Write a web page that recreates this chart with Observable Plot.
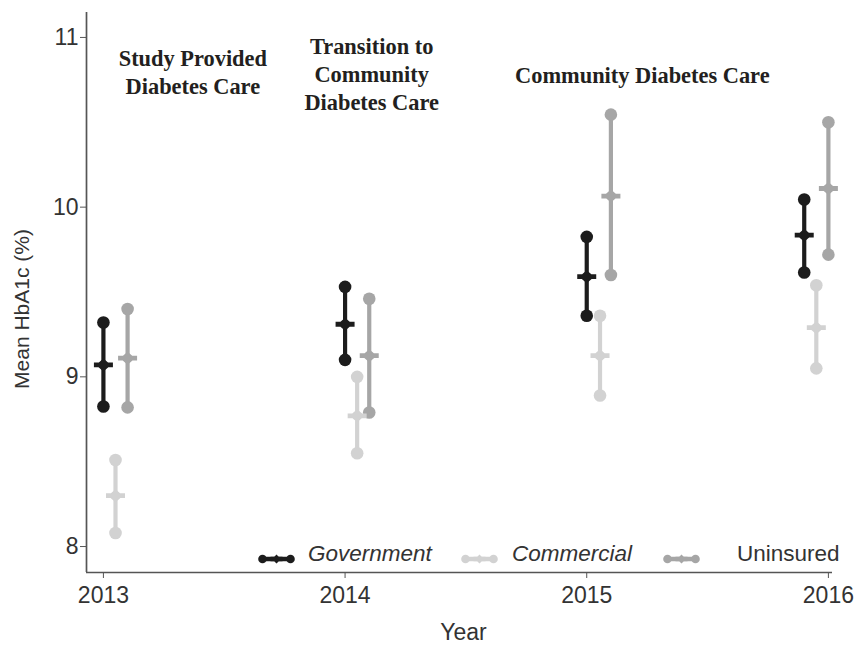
<!DOCTYPE html>
<html>
<head>
<meta charset="utf-8">
<script src="https://cdn.jsdelivr.net/npm/d3@7"></script>
<script src="https://cdn.jsdelivr.net/npm/@observablehq/plot@0.6"></script>
<style>
  html, body { margin: 0; padding: 0; background: #fff; }
  #chart { position: relative; width: 854px; height: 647px; }
  #legend { position: absolute; left: 0; top: 0; width: 854px; height: 647px; pointer-events: none;
            font-family: "Liberation Sans", Arial, sans-serif; font-size: 22.5px; color: #333; }
  .item { position: absolute; top: 540px; height: 28px; line-height: 28px; white-space: nowrap; }
  .sw { position: absolute; top: 547px; }
  #ylab { position: absolute; left: 22px; top: 309px; transform: translate(-50%, -50%) rotate(-90deg);
          font-family: "Liberation Sans", Arial, sans-serif; font-size: 21px; color: #333; white-space: nowrap; }
</style>
</head>
<body>
<div id="chart"><div id="legend"></div><div id="ylab">Mean HbA1c (%)</div></div>
<script>
// ---- data ----
const years = [2013, 2014, 2015, 2016];
const series = ["Government", "Commercial", "Uninsured"];
const seriesColors = ["#1c1c1c", "#d2d2d2", "#a6a6a6"];

// x positions (years, dodged as in the reference)
const govX = [2013, 2014, 2015, 2015.9];
const comX = [2013.05, 2014.05, 2015.055, 2015.95];
const uniX = [2013.1, 2014.1, 2015.1, 2016];

const govMean = [9.07, 9.31, 9.59, 9.835];
const govLo   = [8.825, 9.10, 9.36, 9.615];
const govHi   = [9.32, 9.53, 9.825, 10.045];

const comMean = [8.30, 8.77, 9.125, 9.29];
const comLo   = [8.08, 8.55, 8.89, 9.05];
const comHi   = [8.51, 9.00, 9.36, 9.54];

const uniMean = [9.11, 9.125, 10.065, 10.11];
const uniLo   = [8.82, 8.79, 9.60, 9.72];
const uniHi   = [9.40, 9.46, 10.545, 10.50];

const yTicks = [8, 9, 10, 11];

const annoText = ["Study Provided\nDiabetes Care", "Transition to\nCommunity\nDiabetes Care", "Community Diabetes Care"];
const annoX = [2013.37, 2014.11, 2015.23];
const annoY = [10.80, 10.79, 10.785];

// ---- build table ----
const rows = [];
function addSeries(name, xs, mean, lo, hi) {
  years.forEach((yr, i) => rows.push({series: name, year: yr, x: xs[i], mean: mean[i], lo: lo[i], hi: hi[i]}));
}
// drawing order: light series first
addSeries("Commercial", comX, comMean, comLo, comHi);
addSeries("Government", govX, govMean, govLo, govHi);
addSeries("Uninsured", uniX, uniMean, uniLo, uniHi);

const annotations = annoText.map((t, i) => ({text: t, x: annoX[i], y: annoY[i]}));

const xDomain = [2012.93, 2016.017];
const yDomain = [7.847, 11.147];

// mean marker: horizontal bar with a diamond
const meanSymbol = {
  draw(ctx) {
    const w = 9.5, h = 2.4, dx = 7.5, dy = 6.5;
    ctx.moveTo(-w, -h); ctx.lineTo(w, -h); ctx.lineTo(w, h); ctx.lineTo(-w, h); ctx.closePath();
    ctx.moveTo(0, -dy); ctx.lineTo(dx, 0); ctx.lineTo(0, dy); ctx.lineTo(-dx, 0); ctx.closePath();
  }
};

const chart = Plot.plot({
  width: 854,
  height: 647,
  marginLeft: 86,
  marginRight: 22,
  marginTop: 12,
  marginBottom: 75,
  style: {fontFamily: "'Liberation Sans', Arial, sans-serif", fontSize: "23px", color: "#333", background: "#fff"},
  x: {domain: xDomain},
  y: {domain: yDomain},
  color: {domain: series, range: seriesColors},
  marks: [
    Plot.ruleY([yDomain[0]], {stroke: "#555", strokeWidth: 1.7}),
    Plot.ruleX([xDomain[0]], {stroke: "#555", strokeWidth: 1.7}),
    Plot.axisX({ticks: years, tickFormat: d => String(d), tickSize: 6, tickPadding: 8, label: null, stroke: "#555", fill: "#333", fontSize: 23}),
    Plot.axisY({ticks: yTicks, tickFormat: d => String(d), tickSize: 6, tickPadding: 2, label: null, stroke: "#555", fill: "#333", fontSize: 23}),
    Plot.text(["Year"], {frameAnchor: "bottom", dy: 60, lineAnchor: "middle", fontSize: 23, fill: "#333", dx: 4}),
    Plot.text(annotations, {x: "x", y: "y", text: "text", fontFamily: "'Liberation Serif', 'Times New Roman', serif",
      fontWeight: "bold", fontSize: 22.4, lineHeight: 1.24, fill: "#231f20", lineAnchor: "middle"}),
    Plot.ruleX(rows, {x: "x", y1: "lo", y2: "hi", stroke: "series", strokeWidth: 4.2}),
    Plot.dot(rows, {x: "x", y: "lo", r: 6.3, fill: "series", stroke: null}),
    Plot.dot(rows, {x: "x", y: "hi", r: 6.3, fill: "series", stroke: null}),
    Plot.dot(rows, {x: "x", y: "mean", r: 5, symbol: meanSymbol, fill: "series", stroke: null})
  ]
});
document.getElementById("chart").insertBefore(chart, document.getElementById("legend"));

// ---- legend overlay (inside the plot, bottom right) ----
const legendItems = [
  {name: "Government", sw: 258, tx: 308, italic: true},
  {name: "Commercial", sw: 461, tx: 512, italic: true},
  {name: "Uninsured", sw: 663, tx: 737, italic: false}
];
const legend = document.getElementById("legend");
legendItems.forEach(it => {
  const c = seriesColors[series.indexOf(it.name)];
  const sw = document.createElement("div");
  sw.className = "sw";
  sw.style.left = it.sw + "px";
  sw.innerHTML = `<svg width="37" height="16" viewBox="0 0 37 16">
    <line x1="4" y1="8" x2="33" y2="8" stroke="${c}" stroke-width="4.5"/>
    <circle cx="4.5" cy="8" r="4.3" fill="${c}"/><circle cx="32.5" cy="8" r="4.3" fill="${c}"/>
    <path d="M12.5,5.8 L24.5,5.8 L24.5,10.2 L12.5,10.2 Z M18.5,3.5 L23,8 L18.5,12.5 L14,8 Z" fill="${c}"/></svg>`;
  legend.appendChild(sw);
  const t = document.createElement("div");
  t.className = "item";
  t.style.left = it.tx + "px";
  t.style.fontStyle = it.italic ? "italic" : "normal";
  t.textContent = it.name;
  legend.appendChild(t);
});
</script>
</body>
</html>
